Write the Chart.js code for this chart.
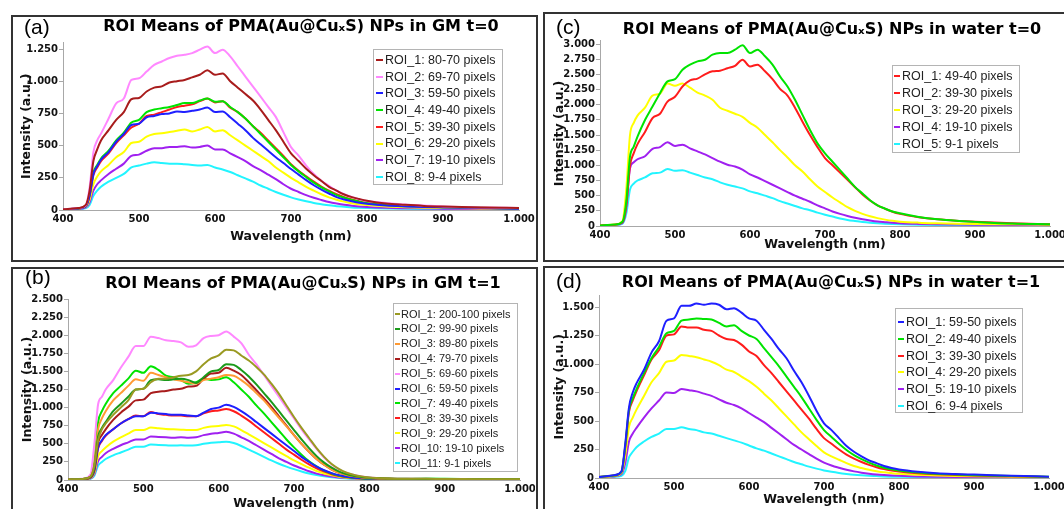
<!DOCTYPE html>
<html><head><meta charset="utf-8">
<script src="https://cdn.jsdelivr.net/npm/chart.js@4.4.0/dist/chart.umd.min.js"></script>
<style>
html,body{margin:0;padding:0;background:#fff;width:1064px;height:509px;overflow:hidden;position:relative;}
.frame{position:absolute;box-sizing:border-box;border:2px solid #333;pointer-events:none;}
canvas{position:absolute;}
</style></head><body>
<canvas id="pa"></canvas>
<canvas id="pb"></canvas>
<canvas id="pc"></canvas>
<canvas id="pd"></canvas>
<div class="frame" style="left:11px;top:15px;width:527px;height:247px"></div>
<div class="frame" style="left:11px;top:267px;width:527px;height:260px"></div>
<div class="frame" style="left:543px;top:12px;width:530px;height:250px"></div>
<div class="frame" style="left:543px;top:266px;width:530px;height:260px"></div>
<script>
// ---------- DATA ----------
const wavelengths = [400,420,430,435,440,445,450,460,470,480,490,500,510,520,530,540,550,560,570,580,590,600,610,620,630,640,650,660,670,680,690,700,710,720,730,740,750,760,770,780,790,800,825,850,875,900,950,1000];
const xTickValues = [400,500,600,700,800,900,1000];

// (a) GM t=0
const gmT0Labels = ['ROI_1: 80-70 pixels','ROI_2: 69-70 pixels','ROI_3: 59-50 pixels','ROI_4: 49-40 pixels','ROI_5: 39-30 pixels','ROI_6: 29-20 pixels','ROI_7: 19-10 pixels','ROI_8: 9-4 pixels'];
const gmT0YTicks = [0,250,500,750,1000,1250];
const gmT0_roi1 = [5,15,40,150,380,470,540, 620,700,760,860,870,920,950,960,990,1000, 1010,1030,1050,1085,1050,1060,1000,950,900,850, 780,700,620,530,440,380,320,270,225,180, 150,120,100,85,72, 50,40,32,27,20,15];
const gmT0_roi2 = [5,15,35,175,450,540,593, 710,828,866,1010,1023,1075,1127,1153,1180,1198, 1205,1218,1245,1270,1218,1245,1193,1114,1036,958, 880,801,723,605,488,423,345,279,227,188, 149,123,102,84,70, 55,42,35,28,20,15];
const gmT0_roi3 = [5,12,30,110,280,340,390, 450,530,590,660,670,720,730,745,750,765, 760,770,780,795,760,765,720,670,620,560, 510,460,410,365,318,275,232,192,158,128, 100,82,68,56,48, 35,28,23,20,15,10];
const gmT0_roi4 = [5,12,30,120,290,350,400, 460,540,600,680,700,760,780,790,800,815, 830,830,850,865,840,845,800,760,710,650, 590,530,470,410,350,300,255,212,175,145, 115,95,78,65,55, 40,32,27,22,17,12];
const gmT0_roi5 = [5,12,30,110,270,330,380, 440,520,580,640,670,730,740,760,780,800, 810,820,845,865,835,845,795,760,710,650, 600,540,480,420,355,305,262,220,182,150, 122,100,82,68,58, 42,34,28,23,18,13];
const gmT0_roi6 = [4,10,25,80,200,260,300, 350,410,450,520,530,570,590,595,605,615, 625,610,625,645,610,620,580,540,500,460, 420,380,330,290,250,215,180,150,122,98, 80,65,52,44,38, 28,22,18,15,12,9];
const gmT0_roi7 = [4,8,20,60,150,200,230, 280,320,360,420,430,460,480,480,490,490, 495,485,490,500,470,470,440,410,380,340, 310,275,240,200,165,140,115,95,78,62, 50,40,33,27,23, 17,14,12,10,8,6];
const gmT0_roi8 = [3,6,15,40,110,150,180, 220,250,280,330,345,360,370,365,360,360, 355,350,345,350,330,315,295,270,245,220, 190,165,140,118,98,82,68,55,45,36, 30,25,20,17,15, 11,9,8,7,5,4];

// (b) GM t=1
const gmT1Labels = ['ROI_1: 200-100 pixels','ROI_2: 99-90 pixels','ROI_3: 89-80 pixels','ROI_4: 79-70 pixels','ROI_5: 69-60 pixels','ROI_6: 59-50 pixels','ROI_7: 49-40 pixels','ROI_8: 39-30 pixels','ROI_9: 29-20 pixels','ROI_10: 19-10 pixels','ROI_11: 9-1 pixels'];
const gmT1YTicks = [0,250,500,750,1000,1250,1500,1750,2000,2250,2500];
const gmT1_roi1 = [5,15,50,200,550,700,780, 900,1000,1100,1250,1260,1350,1400,1400,1420,1440, 1450,1500,1600,1680,1720,1800,1790,1720,1650,1560, 1460,1330,1190,1030,870,720,580,440,320,220, 150,100,70,50,35, 22,18,16,15,12,10];
const gmT1_roi2 = [5,15,45,180,600,720,800, 950,1050,1150,1250,1260,1380,1390,1380,1390,1400, 1380,1340,1420,1500,1520,1600,1590,1520,1430,1320, 1200,1080,950,820,690,560,440,330,240,170, 115,80,55,40,30, 20,16,15,15,12,10];
const gmT1_roi3 = [5,15,50,220,700,850,950, 1100,1200,1300,1390,1370,1480,1450,1420,1390,1370, 1350,1330,1380,1400,1420,1450,1440,1380,1300,1200, 1100,980,860,740,620,500,390,290,210,145, 100,70,50,36,28, 18,15,14,14,12,10];
const gmT1_roi4 = [5,14,40,160,520,620,700, 830,930,1010,1100,1110,1200,1220,1230,1250,1260, 1290,1300,1400,1470,1480,1550,1510,1450,1350,1240, 1130,1010,880,750,620,500,390,290,210,145, 100,70,50,36,28, 18,15,14,14,12,10];
const gmT1_roi5 = [5,18,80,500,1050,1150,1250, 1380,1550,1700,1850,1850,1980,1960,1930,1920,1900, 1840,1860,1960,1990,2000,2050,1980,1890,1730,1600, 1450,1300,1150,1000,850,700,560,430,310,215, 145,98,68,48,35, 22,18,16,15,12,10];
const gmT1_roi6 = [4,12,35,130,450,550,620, 700,780,840,880,880,930,920,910,900,900, 890,880,930,980,1000,1040,1010,950,880,800, 720,640,560,480,400,320,250,185,135,95, 65,45,32,24,19, 14,12,12,12,10,8];
const gmT1_roi7 = [5,15,50,250,800,950,1050, 1200,1300,1400,1510,1480,1570,1520,1440,1420,1380, 1330,1350,1400,1380,1390,1420,1350,1250,1150,1030, 920,800,680,560,450,350,260,190,130,90, 60,42,30,22,18, 14,12,20,18,12,10];
const gmT1_roi8 = [4,12,35,130,440,540,610, 700,780,840,890,880,940,910,900,890,890, 880,880,920,950,960,980,950,890,820,740, 660,580,500,420,350,280,215,160,115,80, 55,38,28,21,17, 13,11,11,11,9,7];
const gmT1_roi9 = [3,10,28,100,330,400,450, 530,590,640,690,690,725,715,705,700,695, 690,690,720,740,745,760,740,690,630,570, 510,450,390,330,270,220,170,125,90,65, 45,32,24,18,15, 11,10,10,10,8,6];
const gmT1_roi10 = [3,8,22,80,260,320,370, 430,480,520,560,560,600,595,590,585,590, 585,590,620,640,650,665,640,590,540,480, 420,360,300,250,200,160,120,88,65,47, 35,26,20,16,13, 10,9,9,9,7,5];
const gmT1_roi11 = [2,6,18,60,200,250,290, 340,380,420,460,460,490,485,480,475,480, 475,480,500,515,520,530,510,470,420,370, 320,270,225,185,150,118,90,68,50,37, 28,21,17,14,12, 9,8,8,8,6,5];

// (c) water t=0
const wT0Labels = ['ROI_1: 49-40 pixels','ROI_2: 39-30 pixels','ROI_3: 29-20 pixels','ROI_4: 19-10 pixels','ROI_5: 9-1 pixels'];
const wT0YTicks = [0,250,500,750,1000,1250,1500,1750,2000,2250,2500,2750,3000];
const wT0_roi1 = [8,25,70,400,1142,1307,1473, 1748,1969,2190,2383,2421,2576,2659,2714,2741,2824, 2852,2852,2907,2980,2852,2907,2797,2659,2466,2300, 2080,1831,1583,1362,1197,1059,921,783,645,535, 425,342,287,240,210, 150,110,85,68,40,28];
const wT0_roi2 = [8,22,60,330,1000,1200,1350, 1550,1780,1850,2050,2130,2300,2400,2430,2500,2550, 2560,2600,2640,2740,2630,2660,2550,2420,2260,2150, 1950,1720,1500,1300,1120,1000,880,760,640,520, 420,340,285,235,200, 145,110,85,70,45,30];
const wT0_roi3 = [8,25,80,600,1500,1700,1820, 1950,2150,2180,2350,2310,2350,2280,2200,2150,2080, 1950,1900,1850,1800,1700,1620,1500,1380,1250,1130, 1000,900,770,650,560,470,390,310,250,200, 160,130,105,85,72, 55,45,38,33,27,22];
const wT0_roi4 = [6,18,50,300,950,1050,1100, 1150,1270,1300,1380,1320,1340,1280,1230,1180,1120, 1060,1010,980,930,850,800,740,680,620,560, 500,450,400,340,290,240,200,165,135,110, 90,73,62,52,45, 35,28,24,21,17,14];
const wT0_roi5 = [5,15,40,200,600,700,750, 800,870,880,940,910,920,880,840,800,770, 720,680,650,620,570,540,500,460,410,370, 330,290,260,220,185,155,125,100,82,66, 54,45,38,32,28, 22,18,16,14,12,10];

// (d) water t=1
const wT1Labels = ['ROI_1: 59-50 pixels','ROI_2: 49-40 pixels','ROI_3: 39-30 pixels','ROI_4: 29-20 pixels','ROI_5: 19-10 pixels','ROI_6: 9-4 pixels'];
const wT1YTicks = [0,250,500,750,1000,1250,1500];
const wT1_roi1 = [8,25,60,300,620,750,830, 950,1100,1200,1380,1400,1510,1510,1530,1520,1530, 1520,1480,1490,1450,1400,1380,1300,1220,1130,1050, 940,840,720,590,480,420,350,280,230,190, 155,130,105,88,75, 55,42,35,30,20,12];
const wT1_roi2 = [8,22,55,280,600,700,780, 920,1050,1150,1270,1290,1380,1390,1400,1395,1390, 1360,1330,1340,1290,1250,1220,1140,1060,980,890, 800,710,610,510,420,360,300,245,200,165, 135,110,90,76,65, 48,37,30,25,17,10];
const wT1_roi3 = [8,22,55,270,580,680,760, 900,1040,1120,1250,1260,1330,1320,1320,1300,1290, 1250,1220,1210,1170,1110,1070,990,920,840,760, 680,600,520,430,350,300,250,205,170,140, 115,95,78,66,57, 42,33,27,22,15,9];
const wT1_roi4 = [6,18,45,200,450,530,600, 720,840,920,1020,1030,1080,1070,1060,1040,1020, 990,950,930,890,850,800,740,680,610,540, 470,400,340,280,225,190,160,130,105,87, 72,60,50,43,37, 28,22,18,15,11,7];
const wT1_roi5 = [5,14,35,130,320,390,440, 530,610,680,750,745,780,770,760,740,720, 690,660,640,610,570,530,490,440,390,340, 290,250,210,170,135,110,90,72,58,47, 38,31,26,22,19, 14,11,9,8,6,5];
const wT1_roi6 = [4,10,20,60,180,230,270, 320,360,390,430,430,445,430,420,400,390, 370,350,330,310,285,260,240,215,190,165, 140,120,100,82,66,54,44,36,29,24, 20,17,14,12,11, 9,7,6,6,5,4];

// ---------- STYLE ----------
const C = {brown:'#a81c1c', pink:'#ff88ff', blue:'#1f1fff', green:'#00e400', red:'#ff1c1c', yellow:'#ffff00', purple:'#a020f0', cyan:'#22f4ff', olive:'#9a9a22', dkgreen:'#1a9a1a', orange:'#ff9a33'};
const tickFont = {family:'DejaVu Sans', weight:'bold', size:10};
const axisFont = {family:'DejaVu Sans', weight:'bold', size:12.5};
const fmt = v => String(v).replace(/\B(?=(\d{3})+(?!\d))/g, '.');

const legendBox = {
  id:'legendBox',
  afterDatasetsDraw(chart, args, o) {
    const ctx = chart.ctx;
    ctx.save();
    ctx.fillStyle = '#fff';
    ctx.fillRect(o.x, o.y, o.w, o.h);
    ctx.strokeStyle = '#b4b4b4'; ctx.lineWidth = 1;
    ctx.strokeRect(Math.round(o.x)+0.5, Math.round(o.y)+0.5, o.w-1, o.h-1);
    ctx.font = o.font; ctx.textBaseline = 'middle'; ctx.textAlign = 'left';
    chart.data.datasets.forEach((ds, i) => {
      const cy = o.row0 + i*o.rowH;
      ctx.strokeStyle = ds.legendColor || ds.borderColor; ctx.lineWidth = 2;
      ctx.beginPath(); ctx.moveTo(o.m0, Math.round(cy)); ctx.lineTo(o.m1, Math.round(cy)); ctx.stroke();
      ctx.fillStyle = '#222';
      ctx.fillText(ds.label, o.tx, cy+0.5);
    });
    ctx.restore();
  }
};
const panelText = {
  id:'panelText',
  afterDraw(chart, args, o) {
    const ctx = chart.ctx;
    ctx.save();
    ctx.fillStyle = '#000'; ctx.textBaseline = 'middle';
    ctx.font = 'bold 16px "DejaVu Sans"'; ctx.textAlign = 'center';
    ctx.fillText(o.title, o.tx, o.ty);
    ctx.font = '21px "Liberation Sans"'; ctx.textAlign = 'left';
    ctx.fillText(o.letter, o.lx, o.ly);
    ctx.restore();
  }
};

function buildPanel(p) {
  const cv = document.getElementById(p.id);
  const c = p.canvas;
  cv.width = c.w; cv.height = c.h;
  cv.style.left = c.x+'px'; cv.style.top = c.y+'px';
  cv.style.width = c.w+'px'; cv.style.height = c.h+'px';
  const yW = 50, lh = axisFont.size*1.2;
  const lastTick = p.yTicks[p.yTicks.length-1];
  const sc = (p.y0 - p.yTopTickPos) / lastTick;
  const top = p.y0 - p.yMax*sc;
  const padLeft = p.left - c.x - yW;
  const padRight = c.x + c.w - p.right;
  const padTop = top - c.y;
  const xH = p.xTitleCy - p.y0 + lh/2;
  const padBottom = c.y + c.h - p.y0 - xH;
  const yTitlePad = p.yTitleCx - (c.x + padLeft) - lh/2;
  const L = p.legend;
  new Chart(cv, {
    type:'line',
    data:{datasets: p.series.map((s,i)=>({
      label: p.labels[i],
      data: wavelengths.map((w,j)=>({x:w, y:s[j]})),
      borderColor: p.colors[i],
      legendColor: p.legendColors ? p.legendColors[i] : p.colors[i],
      borderWidth: 2, pointRadius: 0, fill:false,
      cubicInterpolationMode:'monotone'
    }))},
    options:{
      responsive:false, animation:false, devicePixelRatio:1,
      layout:{padding:{left:padLeft, right:padRight, top:padTop, bottom:padBottom}},
      plugins:{
        legend:{display:false}, tooltip:{enabled:false},
        legendBox:{x:L.x-c.x, y:L.y-c.y, w:L.w, h:L.h, row0:L.row0-c.y, rowH:L.rowH, m0:L.m0-c.x, m1:L.m1-c.x, tx:L.tx-c.x, font:L.font},
        panelText:{title:p.title, tx:p.titleCx-c.x, ty:p.titleCy-c.y, letter:p.letter, lx:p.letterX-c.x, ly:p.letterCy-c.y}
      },
      scales:{
        x:{type:'linear', min:400, max:1000,
          afterBuildTicks:s=>{s.ticks = xTickValues.map(v=>({value:v}));},
          afterFit:s=>{s.height = xH; s.paddingLeft = 0; s.paddingRight = 0;},
          grid:{display:false, drawTicks:false}, border:{display:true, color:'#a8a8a8', width:1},
          ticks:{padding:3, autoSkip:false, maxRotation:0, color:'#111', font:tickFont, callback:v=>fmt(v)},
          title:{display:true, text:'Wavelength (nm)', color:'#111', font:axisFont, padding:{top:0,bottom:0}}
        },
        y:{type:'linear', min:0, max:p.yMax,
          afterBuildTicks:s=>{s.ticks = p.yTicks.map(v=>({value:v}));},
          afterFit:s=>{s.width = yW; s.paddingTop = 0; s.paddingBottom = 0;},
          grid:{display:true, drawOnChartArea:false, drawTicks:true, tickLength:4, color:'#a8a8a8'},
          border:{display:true, color:'#a8a8a8', width:1},
          ticks:{padding:1, autoSkip:false, color:'#111', font:tickFont, callback:v=>fmt(v)},
          title:{display:true, text:'Intensity (a.u.)', color:'#111', font:axisFont, padding:{top:yTitlePad, bottom:0}}
        }
      }
    },
    plugins:[legendBox, panelText]
  });
}

buildPanel({
  id:'pa', canvas:{x:13,y:17,w:522,h:243},
  left:63, right:519, y0:210, yTopTickPos:49, yMax:1300, yTicks:gmT0YTicks,
  xTitleCy:237, yTitleCx:27,
  title:'ROI Means of PMA(Au@CuₓS) NPs in GM t=0', titleCx:301, titleCy:27, letter:'(a)', letterX:24, letterCy:28,
  labels:gmT0Labels,
  series:[gmT0_roi1,gmT0_roi2,gmT0_roi3,gmT0_roi4,gmT0_roi5,gmT0_roi6,gmT0_roi7,gmT0_roi8],
  colors:[C.brown,C.pink,C.blue,C.green,C.red,C.yellow,C.purple,C.cyan],
  legend:{x:373,y:49,w:130,h:136,row0:60,rowH:16.7,m0:376,m1:383,tx:385,font:'12.5px "Liberation Sans"'}
});
buildPanel({
  id:'pb', canvas:{x:13,y:270,w:522,h:260},
  left:68, right:520, y0:480, yTopTickPos:299, yMax:2500, yTicks:gmT1YTicks,
  xTitleCy:504, yTitleCx:28,
  title:'ROI Means of PMA(Au@CuₓS) NPs in GM t=1', titleCx:303, titleCy:284, letter:'(b)', letterX:25, letterCy:278,
  labels:gmT1Labels,
  series:[gmT1_roi1,gmT1_roi2,gmT1_roi3,gmT1_roi4,gmT1_roi5,gmT1_roi6,gmT1_roi7,gmT1_roi8,gmT1_roi9,gmT1_roi10,gmT1_roi11],
  colors:[C.olive,C.dkgreen,C.orange,C.brown,C.pink,C.blue,C.green,C.red,C.yellow,C.purple,C.cyan],
  legend:{x:393,y:303,w:125,h:169,row0:314,rowH:14.9,m0:395,m1:400,tx:401,font:'11px "Liberation Sans"'}
});
buildPanel({
  id:'pc', canvas:{x:545,y:14,w:519,h:246},
  left:600, right:1050, y0:226, yTopTickPos:44, yMax:3050, yTicks:wT0YTicks,
  xTitleCy:245, yTitleCx:560,
  title:'ROI Means of PMA(Au@CuₓS) NPs in water t=0', titleCx:832, titleCy:30, letter:'(c)', letterX:556, letterCy:28,
  labels:wT0Labels,
  series:[wT0_roi1,wT0_roi2,wT0_roi3,wT0_roi4,wT0_roi5],
  colors:[C.green,C.red,C.yellow,C.purple,C.cyan],
  legendColors:[C.red,C.red,C.yellow,C.purple,C.cyan],
  legend:{x:892,y:65,w:128,h:88,row0:76,rowH:17,m0:894,m1:900,tx:902,font:'12.5px "Liberation Sans"'}
});
buildPanel({
  id:'pd', canvas:{x:545,y:268,w:519,h:262},
  left:599, right:1049, y0:478, yTopTickPos:307, yMax:1600, yTicks:wT1YTicks,
  xTitleCy:500, yTitleCx:560,
  title:'ROI Means of PMA(Au@CuₓS) NPs in water t=1', titleCx:831, titleCy:283, letter:'(d)', letterX:556, letterCy:282,
  labels:wT1Labels,
  series:[wT1_roi1,wT1_roi2,wT1_roi3,wT1_roi4,wT1_roi5,wT1_roi6],
  colors:[C.blue,C.green,C.red,C.yellow,C.purple,C.cyan],
  legend:{x:895,y:308,w:128,h:105,row0:322,rowH:16.8,m0:898,m1:904,tx:906,font:'12.5px "Liberation Sans"'}
});
</script>
</body></html>
